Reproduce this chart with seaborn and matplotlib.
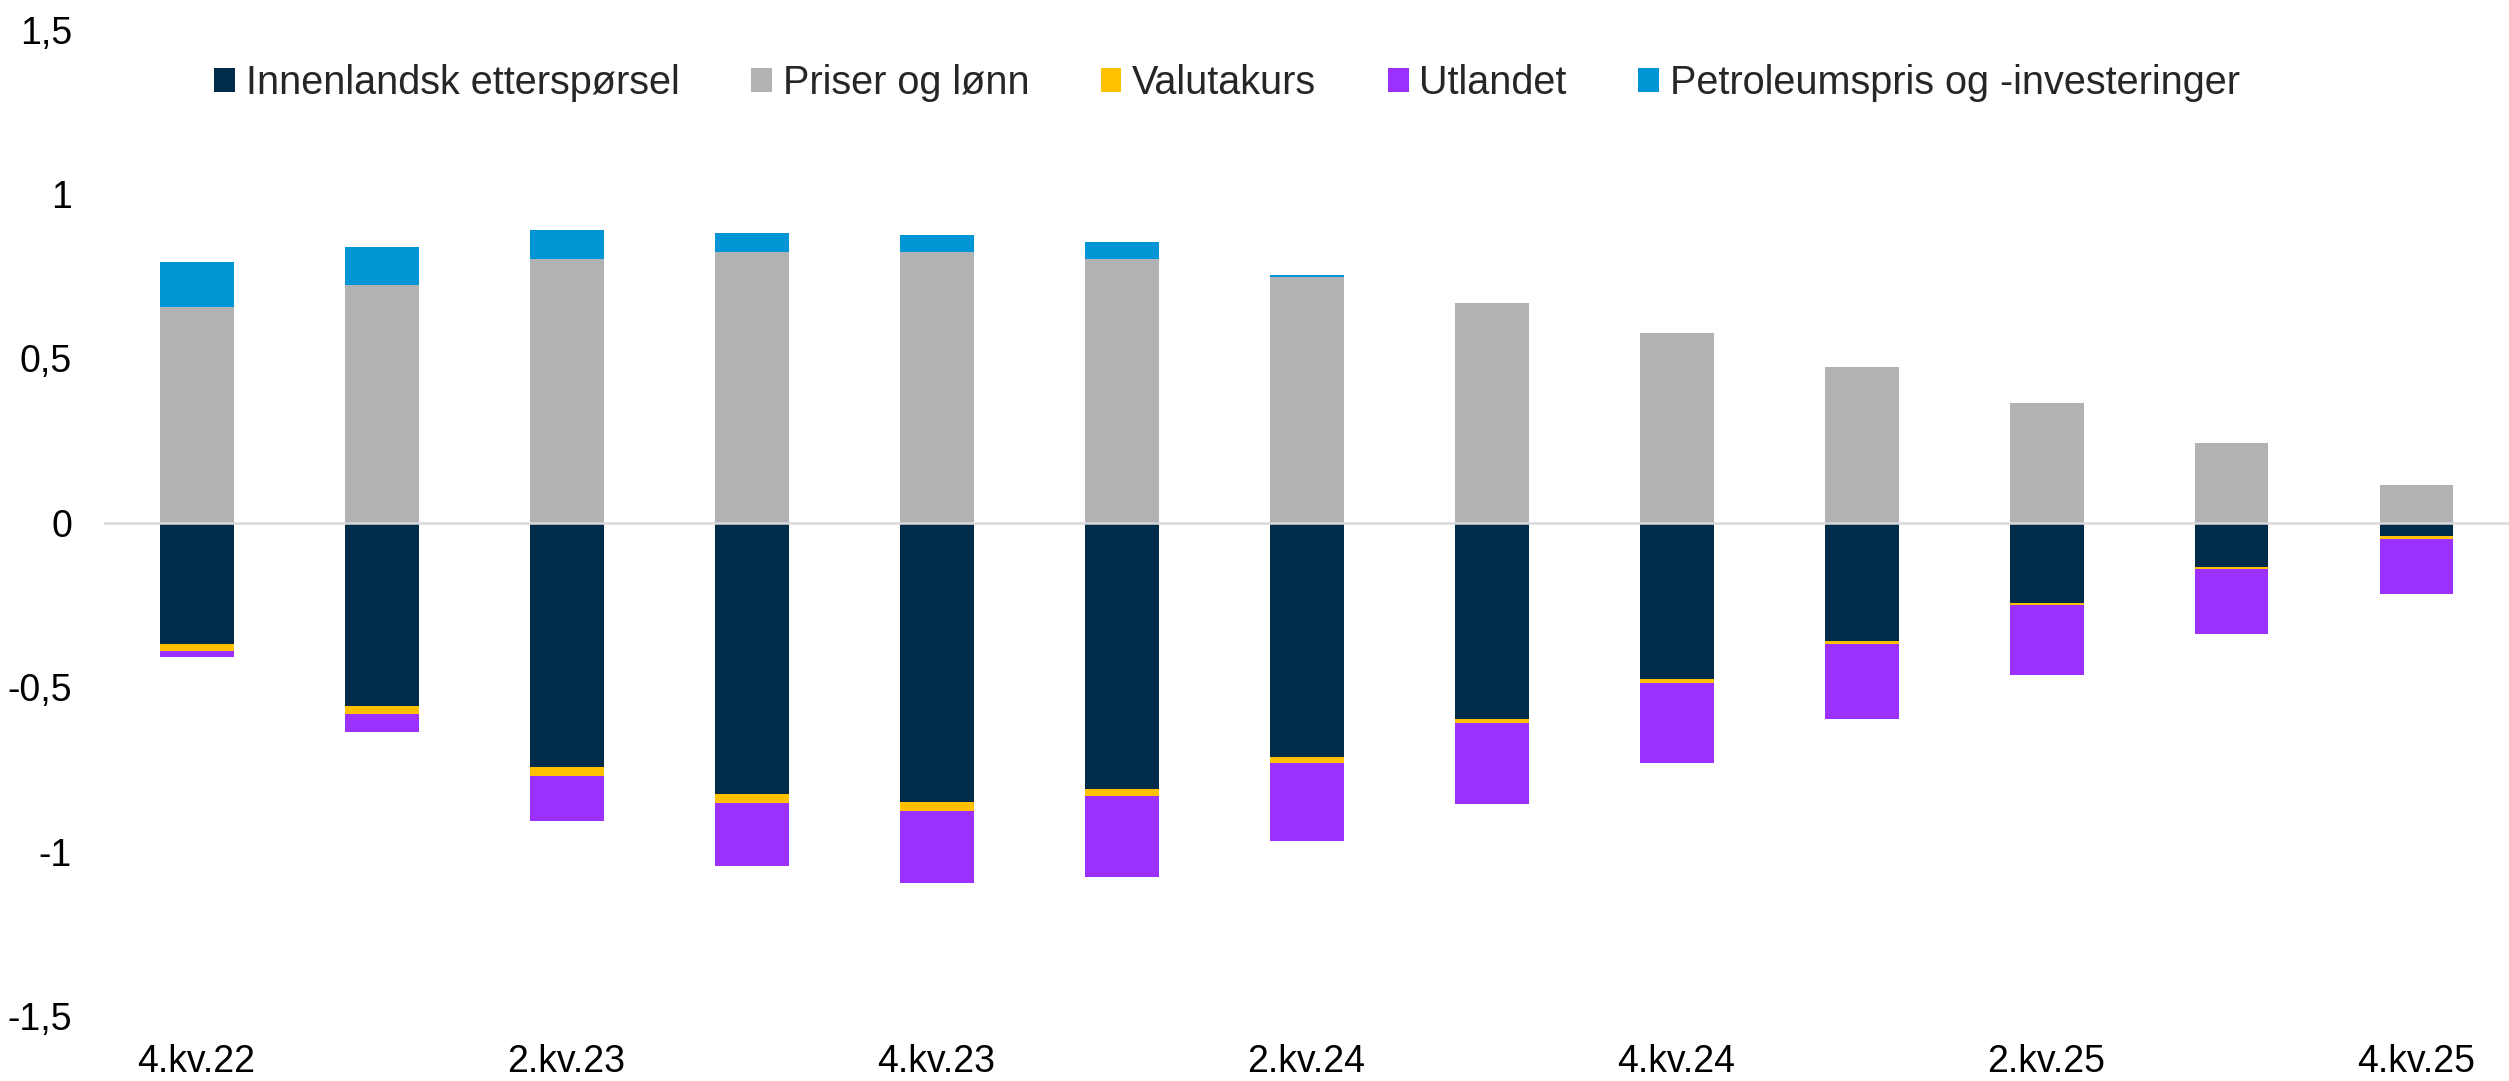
import numpy as np
import pandas as pd
import matplotlib
matplotlib.use("Agg")
import matplotlib.pyplot as plt
from matplotlib.patches import Patch
import seaborn as sns

quarters = ["4.kv.22", "1.kv.23", "2.kv.23", "3.kv.23", "4.kv.23", "1.kv.24", "2.kv.24",
            "3.kv.24", "4.kv.24", "1.kv.25", "2.kv.25", "3.kv.25", "4.kv.25"]
tick_quarters = ["4.kv.22", "2.kv.23", "4.kv.23", "2.kv.24", "4.kv.24", "2.kv.25", "4.kv.25"]

innenlandsk = [-0.369, -0.555, -0.741, -0.823, -0.849, -0.808, -0.710,
               -0.596, -0.473, -0.358, -0.242, -0.135, -0.041]
priser = [0.656, 0.722, 0.802, 0.823, 0.823, 0.801, 0.747,
          0.670, 0.578, 0.473, 0.365, 0.242, 0.116]
valutakurs = [-0.021, -0.026, -0.027, -0.027, -0.025, -0.023, -0.020,
              -0.013, -0.012, -0.009, -0.008, -0.005, -0.007]
utlandet = [-0.017, -0.054, -0.139, -0.193, -0.219, -0.244, -0.236,
            -0.246, -0.246, -0.228, -0.213, -0.197, -0.169]
petroleum = [0.136, 0.118, 0.088, 0.059, 0.053, 0.054, 0.007,
             0.0, 0.0, 0.0, 0.0, 0.0, 0.0]

series_names = ["Innenlandsk etterspørsel", "Priser og lønn", "Valutakurs",
                "Utlandet", "Petroleumspris og -investeringer"]
colors = ["#002B49", "#B1B2B4", "#FFC000", "#9B30FF", "#0096D6"]

y_ticks = [1.5, 1.0, 0.5, 0.0, -0.5, -1.0, -1.5]
y_tick_labels = ["1,5", "1", "0,5", "0", "-0,5", "-1", "-1,5"]

sns.set_style("white")
plt.rcParams["font.family"] = ["Liberation Sans", "DejaVu Sans"]

fig = plt.figure(figsize=(25.09, 10.81), dpi=100)
ax = fig.add_axes([104 / 2509, 0.0597, 1 - 104 / 2509, 0.913])

df = pd.DataFrame({
    "q": quarters,
    "innen": innenlandsk,
    "priser": priser,
    "valuta": valutakurs,
    "utl": utlandet,
    "petro": petroleum,
})

neg_bottom = np.zeros(len(quarters))
pos_bottom = np.zeros(len(quarters))
cols = ["innen", "priser", "valuta", "utl", "petro"]
for col, color in zip(cols, colors):
    vals = df[col].to_numpy()
    bottom = np.where(vals < 0, neg_bottom, pos_bottom)
    sns.barplot(x=df["q"], y=vals, order=quarters, color=color, width=0.4,
                bottom=bottom, ax=ax, linewidth=0, saturation=1, errorbar=None)
    neg_bottom = neg_bottom + np.where(vals < 0, vals, 0)
    pos_bottom = pos_bottom + np.where(vals > 0, vals, 0)

ax.axhline(0, color="#D9D9D9", lw=1.8, zorder=3)

ax.set_ylim(-1.5, 1.5)
ax.set_xlim(-0.5, 12.5)
ax.set_yticks(y_ticks)
ax.set_yticklabels(y_tick_labels)
tick_pos = [quarters.index(t) for t in tick_quarters]
ax.set_xticks(tick_pos)
ax.set_xticklabels(tick_quarters)
ax.tick_params(axis="both", length=0, labelsize=27, colors="black")
ax.tick_params(axis="y", pad=23)
ax.tick_params(axis="x", pad=20)
ax.set_xlabel("")
ax.set_ylabel("")
for s in ax.spines.values():
    s.set_visible(False)
ax.grid(False)

handles = [Patch(facecolor=c, edgecolor="none") for c in colors]
fig.legend(handles, series_names, loc="center", bbox_to_anchor=(0.489, 0.923),
           ncol=5, frameon=False, fontsize=28.5, handlelength=0.53, handleheight=0.55,
           handletextpad=0.27, columnspacing=1.8)

fig.savefig("out.png", dpi=100)
